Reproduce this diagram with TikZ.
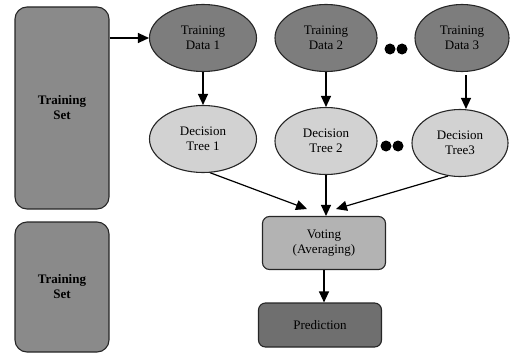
\documentclass[tikz,border=0pt]{standalone}
\usepackage{fontspec}
\setmainfont{Liberation Serif}
\usetikzlibrary{arrows.meta,shapes.geometric}
\definecolor{setc}{HTML}{8A8A8A}
\definecolor{datac}{HTML}{7D7D7D}
\definecolor{treec}{HTML}{D2D2D2}
\definecolor{votec}{HTML}{B3B3B3}
\definecolor{predc}{HTML}{6F6F6F}
\tikzset{
  ar/.style={-{Triangle[length=11pt,width=10pt]},line width=1.2pt,black},
  setbox/.style={draw=black!85,line width=1.1pt,rounded corners=12pt,fill=setc,minimum width=94pt,inner sep=0pt,align=center,font=\fontsize{13}{15}\selectfont\bfseries},
  dat/.style={ellipse,draw=black!85,line width=1.1pt,fill=datac,inner sep=0pt,align=center,minimum height=67pt},
  tree/.style={ellipse,draw=black!85,line width=1.1pt,fill=treec,inner sep=0pt,align=center,minimum height=67pt}
}

\begin{document}
\begin{tikzpicture}[x=1pt,y=-1pt,font=\fontsize{13}{15}\selectfont]
\useasboundingbox (0,0) rectangle (510,353);
% training sets
\node[setbox,minimum height=202pt] (ts1) at (62,108) {Training\\Set};
\node[setbox,minimum height=130pt] (ts2) at (62,287) {Training\\Set};
% bootstrap samples
\node[dat,minimum width=107pt] (td1) at (203,38) {Training\\Data 1};
\node[dat,minimum width=102pt] (td2) at (326,38) {Training\\Data 2};
\node[dat,minimum width=94pt] (td3) at (462,38) {Training\\Data 3};
\fill (390,49) circle (5.5pt) (402,49) circle (5.5pt);
% trees
\node[tree,minimum width=107pt] (dt1) at (203,139) {Decision\\Tree 1};
\node[tree,minimum width=102pt] (dt2) at (326,141) {Decision\\Tree 2};
\node[tree,minimum width=96pt] (dt3) at (460,143) {Decision\\Tree3};
\fill (386,146) circle (5.5pt) (398,146) circle (5.5pt);
% voting and output
\node[draw=black!85,line width=1.1pt,rounded corners=7pt,fill=votec,minimum width=123pt,minimum height=53pt,align=center] (vote) at (324,243) {Voting\\(Averaging)};
\node[draw=black!85,line width=1.1pt,rounded corners=7pt,fill=predc,minimum width=123pt,minimum height=44pt] (pred) at (320,325) {Prediction};
\coordinate (vl) at (307,209);
\coordinate (vr) at (336,209);
% connectors
\draw[ar] (ts1.east |- td1) -- (td1.west);
\draw[ar] (td1) ++(0,33.5) coordinate (td1b) -- (td1b |- dt1.north);
\draw[ar] (td2) ++(0,33.5) coordinate (td2b) -- (td2b |- dt2.north);
\draw[ar] (td3.south) ++(4,3) coordinate (td3b) -- (td3b |- dt3.north);
\draw[ar] (dt1.-78) -- (vl);
\draw[ar] (dt2.south) -- (vote.north -| dt2.south);
\draw[ar] (dt3.-110) -- (vr);
\draw[ar] (vote.south) -- (vote.south |- pred.north);
\end{tikzpicture}
\end{document}
